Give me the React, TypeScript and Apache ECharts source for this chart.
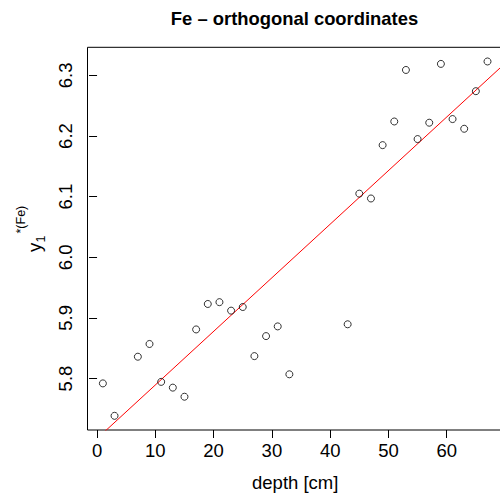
import React, { useEffect, useRef } from "react";
import * as echarts from "echarts";

const depth = [1, 3, 7, 9, 11, 13, 15, 17, 19, 21, 23, 25, 27, 29, 31, 33, 43, 45, 47, 49, 51, 53, 55, 57, 59, 61, 63, 65, 67];
const yFe = [5.792, 5.7385, 5.836, 5.857, 5.7945, 5.785, 5.77, 5.881, 5.923, 5.926, 5.912, 5.918, 5.837, 5.87, 5.886, 5.807, 5.8895, 6.105, 6.097, 6.185, 6.224, 6.309, 6.195, 6.222, 6.319, 6.228, 6.212, 6.274, 6.323];
const xTicks = [0, 10, 20, 30, 40, 50, 60];
const yTicks = [5.8, 5.9, 6.0, 6.1, 6.2, 6.3];
const fitIntercept = 5.701;
const fitSlope = 0.00884;
const titleText = "Fe \u2013 orthogonal coordinates";
const xTitle = "depth [cm]";

const FONT = "'Liberation Sans', Arial, Helvetica, sans-serif";
const FS = 18.5;

function padRange(vals: number[]): [number, number] {
  const mn = Math.min(...vals);
  const mx = Math.max(...vals);
  const e = (mx - mn) * 0.04;
  return [mn - e, mx + e];
}

export default function App() {
  const ref = useRef<HTMLDivElement>(null);
  useEffect(() => {
    if (!ref.current) return;
    const chart = echarts.init(ref.current, undefined, { renderer: "svg" });
    const [xMin, xMax] = padRange(depth);
    const [yMin, yMax] = padRange(yFe);
    const fitLine = [xMin, xMax].map((x) => [x, fitIntercept + fitSlope * x]);
    chart.setOption({
      animation: false,
      backgroundColor: "#fff",
      grid: {
        left: 87.5,
        top: 47.3,
        bottom: 68,
        right: 7.1,
        show: true,
        borderColor: "#000",
        borderWidth: 1,
        backgroundColor: "transparent",
      },
      xAxis: {
        type: "value",
        min: xMin,
        max: xMax,
        name: xTitle,
        nameLocation: "middle",
        nameGap: 43,
        nameTextStyle: { fontFamily: FONT, fontSize: FS, color: "#000" },
        axisLine: { show: false },
        splitLine: { show: false },
        axisTick: { show: true, inside: false, length: 8, lineStyle: { color: "#000" }, customValues: xTicks },
        axisLabel: { show: true, margin: 11, fontFamily: FONT, fontSize: FS, color: "#000", customValues: xTicks },
      },
      yAxis: {
        type: "value",
        min: yMin,
        max: yMax,
        axisLine: { show: false },
        splitLine: { show: false },
        axisTick: { show: true, inside: false, length: 8, lineStyle: { color: "#000" }, customValues: yTicks },
        axisLabel: {
          show: true,
          rotate: 90,
          margin: 13,
          fontFamily: FONT,
          fontSize: FS,
          color: "#000",
          customValues: yTicks,
          formatter: (v: number) => v.toFixed(1),
        },
      },
      graphic: [
        {
          type: "text",
          x: 294.5,
          y: 18.6,
          style: { text: titleText, align: "center", verticalAlign: "middle", font: `bold 18.4px ${FONT}`, fill: "#000" },
        },
        {
          type: "group",
          x: 41,
          y: 252,
          rotation: Math.PI / 2,
          children: [
            { type: "text", x: 0, y: -6.4, style: { text: "y", align: "left", verticalAlign: "middle", font: `${FS}px ${FONT}`, fill: "#000" } },
            { type: "text", x: 9.5, y: -0.3, style: { text: "1", align: "left", verticalAlign: "middle", font: `12.5px ${FONT}`, fill: "#000" } },
            { type: "text", x: 18.5, y: -20.3, style: { text: "*(Fe)", align: "left", verticalAlign: "middle", font: `12.5px ${FONT}`, fill: "#000" } },
          ],
        },
      ],
      series: [
        {
          type: "line",
          data: fitLine,
          showSymbol: false,
          symbol: "none",
          clip: true,
          lineStyle: { color: "#ff0000", width: 1 },
          z: 2,
        },
        {
          type: "scatter",
          data: depth.map((d, i) => [d, yFe[i]]),
          symbol: "circle",
          symbolSize: 7,
          itemStyle: { color: "transparent", borderColor: "#000", borderWidth: 1 },
          z: 3,
        },
      ],
    });
    return () => chart.dispose();
  }, []);
  return (
    <div style={{ position: "fixed", left: 0, top: 0, width: 500, height: 498, overflow: "hidden", background: "#fff" }}>
      <div ref={ref} style={{ width: 510, height: 498 }} />
    </div>
  );
}
